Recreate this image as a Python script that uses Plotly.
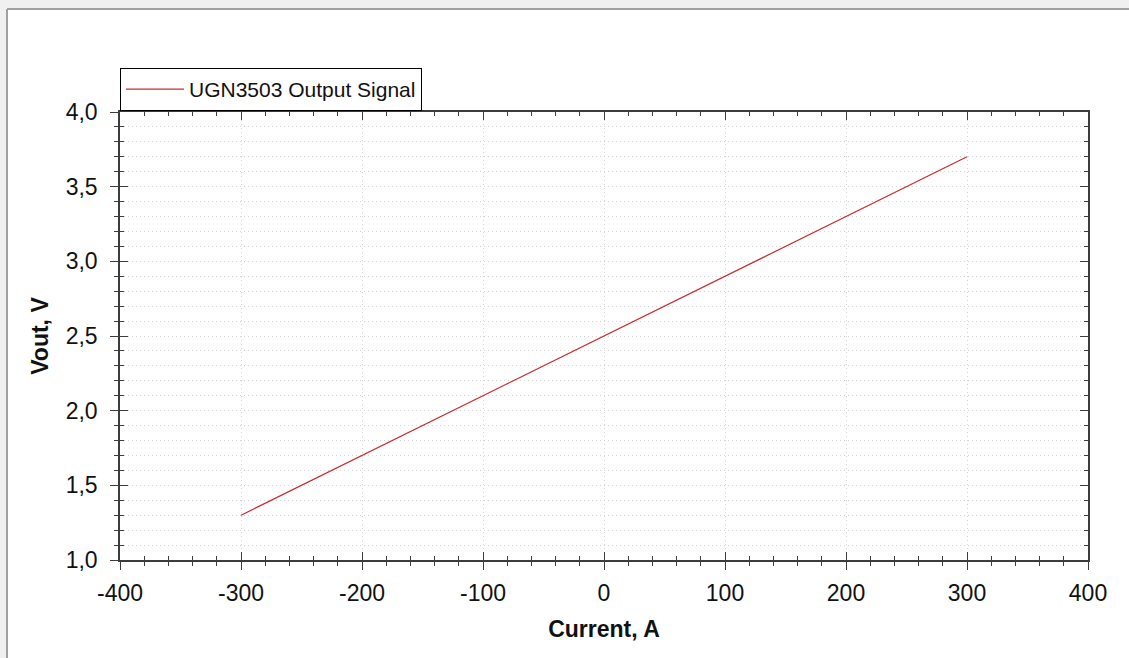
import plotly.graph_objects as go

# ---- data ----
current_a = [-300, -250, -200, -150, -100, -50, 0, 50, 100, 150, 200, 250, 300]
vout_v = [1.3, 1.5, 1.7, 1.9, 2.1, 2.3, 2.5, 2.7, 2.9, 3.1, 3.3, 3.5, 3.7]
series_name = "UGN3503 Output Signal"
x_title = "Current, A"
y_title = "Vout, V"
x_range = [-400, 400]
y_range = [1.0, 4.0]
x_tick_vals = [-400, -300, -200, -100, 0, 100, 200, 300, 400]
x_tick_text = ["-400", "-300", "-200", "-100", "0", "100", "200", "300", "400"]
y_tick_vals = [1.0, 1.5, 2.0, 2.5, 3.0, 3.5, 4.0]
y_tick_text = ["1,0", "1,5", "2,0", "2,5", "3,0", "3,5", "4,0"]

# ---- layout geometry ----
W, H = 1129, 658
L, R, T, B = 120, 41, 112, 98
PW, PH = W - L - R, H - T - B


def px_x(p):
    return (p - L) / PW


def px_y(p):
    return (H - B - p) / PH


FONT = "Arial, Liberation Sans, Helvetica, sans-serif"
AX = "#3c3c3c"
GRID = "#d4d4d4"
GDASH = "1px,3px"

fig = go.Figure()
fig.add_trace(go.Scatter(x=current_a, y=vout_v, mode="lines", name=series_name,
                         line=dict(color="#cc2b2b", width=1.2)))
fig.add_trace(go.Scatter(x=[None], y=[None], xaxis="x2", yaxis="y2",
                         showlegend=False, hoverinfo="skip"))
fig.add_trace(go.Scatter(x=[None], y=[None], xaxis="x3", yaxis="y3",
                         showlegend=False, hoverinfo="skip"))

tick_font = dict(family=FONT, size=23, color="#111")
title_font = dict(family=FONT, size=23, color="#111", weight="bold")

common_x = dict(range=x_range, tick0=0, dtick=100, zeroline=False, fixedrange=True,
                tickcolor=AX, tickwidth=1)
common_y = dict(range=y_range, tick0=1.0, dtick=0.5, zeroline=False, fixedrange=True,
                tickcolor=AX, tickwidth=1)

fig.update_layout(
    width=W, height=H,
    margin=dict(l=L, r=R, t=T, b=B),
    paper_bgcolor="white", plot_bgcolor="white",
    separators=",.",
    font=dict(family=FONT, color="#111"),
    showlegend=True,
    legend=dict(x=0, xanchor="left", y=px_y(68), yanchor="top",
                bgcolor="white", bordercolor="#000", borderwidth=1,
                font=dict(family=FONT, size=21, color="#111"),
                itemwidth=58, tracegroupgap=0),
    xaxis=dict(range=x_range, zeroline=False, fixedrange=True,
               tickcolor=AX, tickwidth=1,
               tickmode="array", tickvals=x_tick_vals, ticktext=x_tick_text,
               ticks="outside", ticklen=8,
               showline=True, linecolor=AX, linewidth=1.5,
               showgrid=True, gridcolor=GRID, griddash=GDASH, gridwidth=1,
               minor=dict(tick0=0, dtick=20, ticks="outside", ticklen=4, tickcolor=AX,
                          showgrid=False),
               tickfont=tick_font, ticklabelstandoff=4,
               title=dict(text=x_title, font=title_font, standoff=16)),
    xaxis2=dict(**common_x, overlaying="x", anchor="y", side="bottom",
                ticks="inside", ticklen=8, showticklabels=False, showgrid=False,
                showline=False,
                minor=dict(dtick=20, ticks="inside", ticklen=4, tickcolor=AX)),
    xaxis3=dict(**common_x, overlaying="x", anchor="y", side="top",
                ticks="inside", ticklen=8, showticklabels=False, showgrid=False,
                showline=True, linecolor=AX, linewidth=1.5,
                minor=dict(dtick=20, ticks="inside", ticklen=4, tickcolor=AX)),
    yaxis=dict(range=y_range, zeroline=False, fixedrange=True,
               tickcolor=AX, tickwidth=1,
               tickmode="array", tickvals=y_tick_vals, ticktext=y_tick_text,
               ticks="outside", ticklen=8,
               showline=True, linecolor=AX, linewidth=1.5,
               showgrid=True, gridcolor=GRID, griddash=GDASH, gridwidth=1,
               minor=dict(tick0=1.0, dtick=0.1, ticks="outside", ticklen=4, tickcolor=AX,
                          showgrid=True, gridcolor=GRID, griddash=GDASH, gridwidth=1),
               tickfont=tick_font, ticklabelstandoff=8,
               title=dict(text=y_title, font=title_font, standoff=11)),
    yaxis2=dict(**common_y, overlaying="y", anchor="x", side="left",
                ticks="inside", ticklen=8, showticklabels=False, showgrid=False,
                showline=False,
                minor=dict(dtick=0.1, ticks="inside", ticklen=4, tickcolor=AX)),
    yaxis3=dict(**common_y, overlaying="y", anchor="x", side="right",
                ticks="inside", ticklen=8, showticklabels=False, showgrid=False,
                showline=True, linecolor=AX, linewidth=1.5,
                minor=dict(dtick=0.1, ticks="inside", ticklen=4, tickcolor=AX)),
    shapes=[
        # window frame: light grey strips and grey border at top-left
        dict(type="rect", xref="paper", yref="paper", layer="above",
             x0=px_x(-20), x1=px_x(6), y0=px_y(H + 20), y1=px_y(-20),
             fillcolor="#f0f0f0", line=dict(width=0)),
        dict(type="rect", xref="paper", yref="paper", layer="above",
             x0=px_x(-20), x1=px_x(W + 20), y0=px_y(8), y1=px_y(-20),
             fillcolor="#f0f0f0", line=dict(width=0)),
        dict(type="line", xref="paper", yref="paper", layer="above",
             x0=px_x(7), x1=px_x(7), y0=px_y(H + 20), y1=px_y(9),
             line=dict(color="#a0a0a0", width=2)),
        dict(type="line", xref="paper", yref="paper", layer="above",
             x0=px_x(7), x1=px_x(W + 20), y0=px_y(9), y1=px_y(9),
             line=dict(color="#a0a0a0", width=2)),
    ],
)

fig.write_html("out.html",
               config={"displayModeBar": False},
               post_script="document.body.style.margin='0';"
                           "document.body.style.overflow='hidden';")
